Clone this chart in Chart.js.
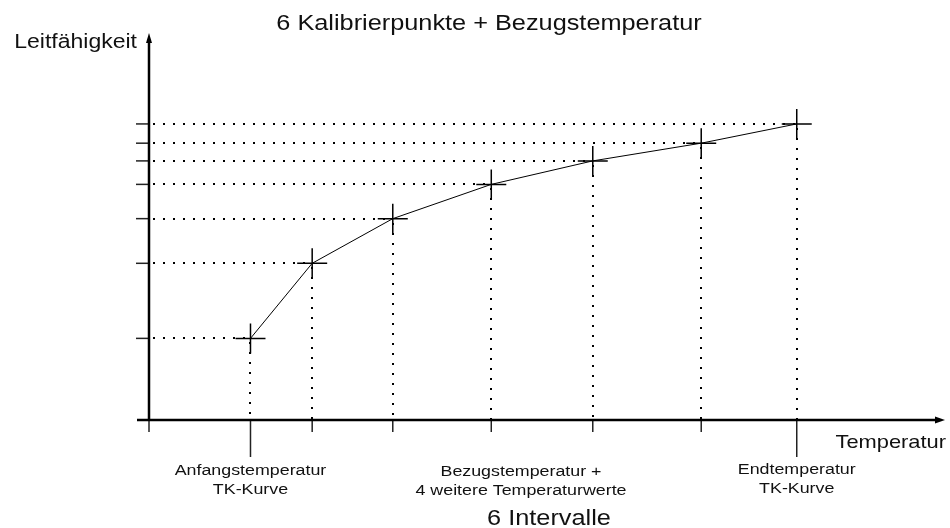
<!DOCTYPE html>
<html>
<head>
<meta charset="utf-8">
<script src="https://cdn.jsdelivr.net/npm/chart.js@4"></script>
<style>
  body { margin: 0; background: #fff; }
  #wrap { width: 950px; height: 528px; }
</style>
</head>
<body>
<div id="wrap"><canvas id="tkChart" width="950" height="528"></canvas></div>
<script>
// Kalibrierpunkte (Temperatur, Leitfaehigkeit) - Einheiten beliebig
let temps = [10.2, 16.4, 24.5, 34.4, 44.6, 55.5, 65.1];
let leit = [21.2, 40.7, 52.3, 61.2, 67.3, 71.9, 76.9];
let xRange = [0, 80];
let yRange = [0, 100];

let titleText = '6 Kalibrierpunkte + Bezugstemperatur';
let yTitle = 'Leitfähigkeit';
let xTitle = 'Temperatur';
let footText = '6 Intervalle';
let startLabel = ['Anfangstemperatur', 'TK-Kurve'];
let midLabel = ['Bezugstemperatur +', '4 weitere Temperaturwerte'];
let endLabel = ['Endtemperatur', 'TK-Kurve'];

const FONT = '"Liberation Sans", Arial, Helvetica, sans-serif';

function txt(ctx, str, x, y, size, align) {
    ctx.save();
    ctx.font = size + 'px ' + FONT;
    ctx.fillStyle = '#111';
    ctx.textAlign = align;
    ctx.textBaseline = 'alphabetic';
    ctx.translate(x, y);
    ctx.scale(1.15, 1);
    ctx.fillText(str, 0, 0);
    ctx.restore();
}

const diagramPlugin = {
    id: 'diagram',
    beforeDatasetsDraw(chart) {
        const ctx = chart.ctx;
        const xs = chart.scales.x, ys = chart.scales.y;
        const x0 = Math.round(xs.getPixelForValue(xRange[0]));
        const y0 = Math.round(ys.getPixelForValue(yRange[0]));
        ctx.save();
        // gepunktete Hilfslinien
        ctx.strokeStyle = '#000';
        ctx.lineWidth = 2;
        ctx.setLineDash([2, 8]);
        for (let i = 0; i < temps.length; i++) {
            const px = Math.round(xs.getPixelForValue(temps[i]));
            const py = Math.round(ys.getPixelForValue(leit[i]));
            ctx.beginPath();
            ctx.moveTo(x0 + 4, py);
            ctx.lineTo(px, py);
            ctx.stroke();
            ctx.beginPath();
            ctx.moveTo(px, py + 4);
            ctx.lineTo(px, y0);
            ctx.stroke();
        }
        ctx.setLineDash([]);

        // Ticks
        ctx.strokeStyle = '#222';
        ctx.lineWidth = 1.5;
        for (let i = 0; i < temps.length; i++) {
            const px = xs.getPixelForValue(temps[i]);
            const py = ys.getPixelForValue(leit[i]);
            ctx.beginPath();
            ctx.moveTo(x0 - 13, py);
            ctx.lineTo(x0, py);
            ctx.stroke();
            const long = (i === 0 || i === temps.length - 1);
            ctx.beginPath();
            ctx.moveTo(px, y0);
            ctx.lineTo(px, y0 + (long ? 37 : 12));
            ctx.stroke();
        }
        ctx.beginPath();
        ctx.moveTo(x0, y0);
        ctx.lineTo(x0, y0 + 12);
        ctx.stroke();

        // Achsen
        const xEnd = xs.getPixelForValue(xRange[1]);
        const yTop = ys.getPixelForValue(yRange[1]);
        ctx.strokeStyle = '#000';
        ctx.lineWidth = 2.5;
        ctx.beginPath();
        ctx.moveTo(x0 - 12, y0);
        ctx.lineTo(xEnd - 6, y0);
        ctx.stroke();
        ctx.beginPath();
        ctx.moveTo(x0, y0);
        ctx.lineTo(x0, yTop + 6);
        ctx.stroke();
        ctx.fillStyle = '#000';
        ctx.beginPath();
        ctx.moveTo(xEnd, y0);
        ctx.lineTo(xEnd - 10, y0 - 3.5);
        ctx.lineTo(xEnd - 10, y0 + 3.5);
        ctx.closePath();
        ctx.fill();
        ctx.beginPath();
        ctx.moveTo(x0, yTop - 2);
        ctx.lineTo(x0 - 3, yTop + 8);
        ctx.lineTo(x0 + 3, yTop + 8);
        ctx.closePath();
        ctx.fill();
        ctx.restore();
    },
    afterDraw(chart) {
        const ctx = chart.ctx;
        const xs = chart.scales.x;
        const first = xs.getPixelForValue(temps[0]);
        const last = xs.getPixelForValue(temps[temps.length - 1]);
        txt(ctx, titleText, 489, 30, 22, 'center');
        txt(ctx, yTitle, 137, 48, 20, 'right');
        txt(ctx, xTitle, 946, 448, 19, 'right');
        txt(ctx, startLabel[0], first, 475, 15.5, 'center');
        txt(ctx, startLabel[1], first, 494, 15.5, 'center');
        txt(ctx, midLabel[0], 521, 476, 15.5, 'center');
        txt(ctx, midLabel[1], 521, 495, 15.5, 'center');
        txt(ctx, endLabel[0], last, 474, 15.5, 'center');
        txt(ctx, endLabel[1], last, 493, 15.5, 'center');
        txt(ctx, footText, 549, 525, 22, 'center');
    }
};

let ctx = document.getElementById('tkChart').getContext('2d');
let tkChart = new Chart(ctx, {
    type: 'line',
    data: {
        datasets: [{
            data: temps.map((t, i) => ({ x: t, y: leit[i] })),
            borderColor: '#000',
            borderWidth: 1,
            tension: 0,
            pointStyle: 'cross',
            pointRadius: 15,
            pointBorderWidth: 1.5,
            pointBorderColor: '#000',
            clip: false
        }]
    },
    options: {
        responsive: false,
        animation: false,
        layout: { autoPadding: false, padding: { left: 149, right: 5, top: 35, bottom: 108 } },
        scales: {
            x: { type: 'linear', min: xRange[0], max: xRange[1], display: false },
            y: { type: 'linear', min: yRange[0], max: yRange[1], display: false }
        },
        plugins: {
            legend: { display: false },
            tooltip: { enabled: false }
        }
    },
    plugins: [diagramPlugin]
});
</script>
</body>
</html>
